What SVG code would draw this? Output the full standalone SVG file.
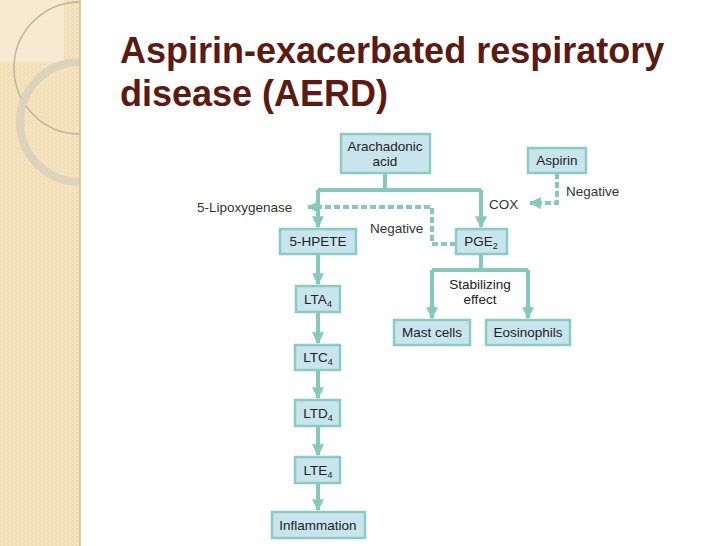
<svg xmlns="http://www.w3.org/2000/svg" width="728" height="546" viewBox="0 0 728 546">
<defs>
<marker id="ah" viewBox="0 0 10 10" refX="9" refY="5" markerWidth="3" markerHeight="3" orient="auto" markerUnits="strokeWidth"><path d="M0,0 L10,5 L0,10 z" fill="#86c9bb"/></marker>
<pattern id="pt" width="4" height="4" patternUnits="userSpaceOnUse"><rect width="4" height="4" fill="#f3e2bb"/><rect width="1" height="1" fill="#e9d6aa"/></pattern>
<clipPath id="sb"><rect width="80" height="546"/></clipPath>
</defs>
<style>
.bx{fill:#c8e5ee;stroke:#8ccbc0;stroke-width:2.5}
.t{font-family:"Liberation Sans",Arial,sans-serif;font-size:13.5px;fill:#222;text-anchor:middle}
.l{font-family:"Liberation Sans",Arial,sans-serif;font-size:13.5px;fill:#333}
.c{fill:none;stroke:#86c9bb;stroke-width:4}
.d{fill:none;stroke:#86c9bb;stroke-width:4;stroke-dasharray:6,3}
</style>
<rect width="728" height="546" fill="#fff"/>
<rect width="80" height="546" fill="url(#pt)"/>
<g clip-path="url(#sb)">
<rect x="0" y="0" width="64" height="62" fill="#f8eed8" opacity="0.7"/>
<circle cx="80" cy="68" r="66" fill="none" stroke="#bfb39a" stroke-width="1.5"/>
<circle cx="80" cy="122" r="60" fill="none" stroke="#ddd3bc" stroke-width="8"/>
</g>
<line x1="80" y1="0" x2="80" y2="546" stroke="#cdbb95" stroke-width="1.5"/>
<g id="title" font-family="'Liberation Sans',Arial,sans-serif" font-weight="bold" font-size="36" fill="#5b1a12">
<text x="120" y="63">Aspirin-exacerbated respiratory</text>
<text x="120" y="106">disease (AERD)</text>
</g>
<g id="connectors">
<path class="c" d="M385,173 V190"/>
<path class="c" d="M318,190 H481"/>
<path class="c" d="M318,190 V227" marker-end="url(#ah)"/>
<path class="c" d="M481,190 V227" marker-end="url(#ah)"/>
<path class="d" d="M456,244 H432 V207 H308" marker-end="url(#ah)"/>
<path class="d" d="M557,173 V203 H530" marker-end="url(#ah)"/>
<path class="c" d="M481,254 V270"/>
<path class="c" d="M432,270 H528"/>
<path class="c" d="M432,270 V318" marker-end="url(#ah)"/>
<path class="c" d="M528,270 V318" marker-end="url(#ah)"/>
<path class="c" d="M318,254 V284" marker-end="url(#ah)"/>
<path class="c" d="M318,312 V343" marker-end="url(#ah)"/>
<path class="c" d="M318,370 V398" marker-end="url(#ah)"/>
<path class="c" d="M318,426 V455" marker-end="url(#ah)"/>
<path class="c" d="M318,483 V510" marker-end="url(#ah)"/>
</g>
<g class="l">
<text x="197" y="212">5-Lipoxygenase</text>
<text x="370" y="233">Negative</text>
<text x="489" y="209">COX</text>
<text x="566" y="196">Negative</text>
<text class="t" x="480" y="289">Stabilizing</text>
<text class="t" x="480" y="304">effect</text>
</g>
<g id="arachidonic"><rect class="bx" x="341" y="134" width="89" height="39"/><text class="t" x="385" y="151">Arachadonic</text><text class="t" x="385" y="166">acid</text></g>
<g id="aspirin"><rect class="bx" x="528" y="148" width="58" height="25"/><text class="t" x="557" y="165">Aspirin</text></g>
<g id="hpete"><rect class="bx" x="280" y="229" width="76" height="25"/><text class="t" x="318" y="246">5-HPETE</text></g>
<g id="pge2"><rect class="bx" x="456" y="229" width="51" height="25"/><text class="t" x="481" y="246">PGE<tspan font-size="9" dy="3">2</tspan></text></g>
<g id="mast"><rect class="bx" x="394" y="320" width="76" height="25"/><text class="t" x="432" y="337">Mast cells</text></g>
<g id="eos"><rect class="bx" x="486" y="320" width="84" height="25"/><text class="t" x="528" y="337">Eosinophils</text></g>
<g id="lta4"><rect class="bx" x="296" y="286" width="44" height="26"/><text class="t" x="318" y="304">LTA<tspan font-size="9" dy="3">4</tspan></text></g>
<g id="ltc4"><rect class="bx" x="295" y="345" width="45" height="25"/><text class="t" x="318" y="362">LTC<tspan font-size="9" dy="3">4</tspan></text></g>
<g id="ltd4"><rect class="bx" x="295" y="400" width="45" height="26"/><text class="t" x="318" y="418">LTD<tspan font-size="9" dy="3">4</tspan></text></g>
<g id="lte4"><rect class="bx" x="295" y="457" width="45" height="26"/><text class="t" x="318" y="475">LTE<tspan font-size="9" dy="3">4</tspan></text></g>
<g id="inflammation"><rect class="bx" x="272" y="512" width="93" height="26"/><text class="t" x="318" y="530">Inflammation</text></g>
</svg>
